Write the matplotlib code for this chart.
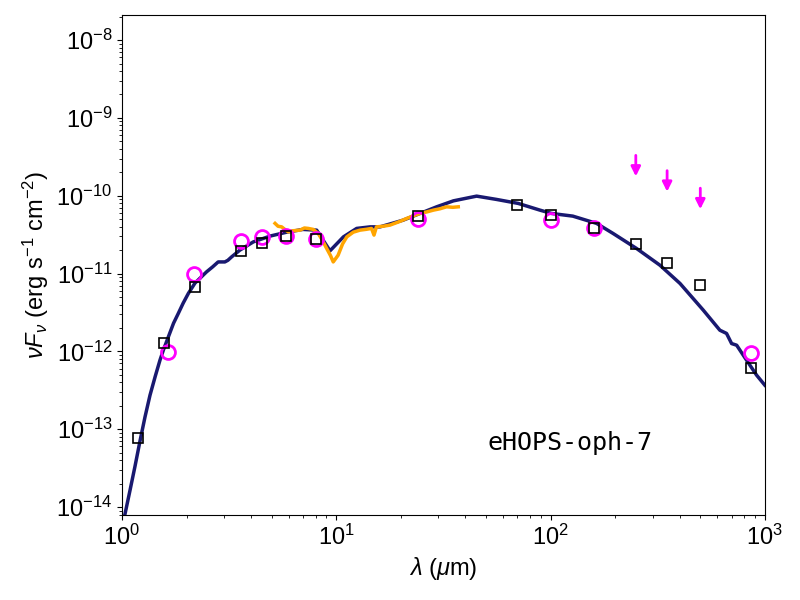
import matplotlib
matplotlib.use('Agg')
import matplotlib.pyplot as plt
import numpy as np

plt.rcParams['font.family'] = ['Liberation Sans', 'DejaVu Sans']
plt.rcParams['mathtext.fontset'] = 'custom'
plt.rcParams['mathtext.rm'] = 'Liberation Sans'
plt.rcParams['mathtext.it'] = 'Liberation Sans:italic'
plt.rcParams['mathtext.bf'] = 'Liberation Sans:bold'

# model SED
lam_model = [1.03, 1.09, 1.15, 1.213, 1.28, 1.351, 1.43, 1.504, 1.56, 1.645, 1.74,
             1.831, 1.93, 2.04, 2.19, 2.48, 2.65, 2.81, 3.02, 3.12, 3.25,
             3.55, 4.10, 4.91, 5.87, 6.99, 8.10, 9.35, 10.8, 12.45, 14.4, 16.0, 20.5,
             24.6, 29.4, 35.2, 42.1, 45.2, 56.0, 70.7, 89.2, 101, 127, 164, 196,
             252, 324, 402, 516, 617, 663, 700, 739, 793, 916, 1000]
f_model = [7.85e-15, 1.64e-14, 3.34e-14, 7.02e-14, 1.43e-13, 2.73e-13, 4.80e-13,
           7.71e-13, 1.04e-12, 1.53e-12, 2.30e-12, 3.07e-12, 4.17e-12, 5.55e-12,
           7.53e-12, 1.05e-11, 1.22e-11, 1.41e-11, 1.41e-11, 1.48e-11, 1.64e-11,
           2.00e-11, 2.55e-11,
           3.03e-11, 3.40e-11, 3.69e-11, 3.61e-11, 1.96e-11, 2.96e-11, 3.80e-11,
           3.98e-11, 3.98e-11, 4.85e-11, 5.92e-11, 7.20e-11, 8.59e-11, 9.50e-11,
           9.88e-11, 8.96e-11, 7.96e-11, 6.53e-11, 5.92e-11, 5.47e-11, 4.41e-11,
           3.27e-11, 2.10e-11, 1.28e-11, 7.46e-12, 3.39e-12, 1.87e-12, 1.70e-12,
           1.26e-12, 1.20e-12, 8.94e-13, 4.94e-13, 3.68e-13]

# IRS spectrum
lam_irs = [5.18, 5.35, 5.56, 5.75, 5.97, 6.3, 6.77, 7.1, 7.40, 7.81, 8.24, 8.6, 9.02,
           9.4, 9.68, 10.2, 10.7, 11.2, 12.0, 12.9, 13.8, 14.6, 15.0, 15.4, 16.5,
           17.8, 19.5, 21.3, 23.0, 24.6, 26.5, 28.4, 30.5, 32.7, 35.0, 37.1]
f_irs = [4.41e-11, 4.05e-11, 3.98e-11, 3.70e-11, 3.43e-11, 3.55e-11, 3.61e-11,
         3.85e-11, 3.80e-11, 3.69e-11, 3.27e-11, 2.70e-11, 2.10e-11, 1.70e-11,
         1.41e-11, 1.72e-11, 2.40e-11, 2.96e-11, 3.40e-11, 3.61e-11, 3.70e-11,
         3.80e-11, 3.12e-11, 3.98e-11, 4.05e-11, 4.19e-11, 4.60e-11, 5.10e-11,
         5.55e-11, 5.92e-11, 6.20e-11, 6.53e-11, 6.80e-11, 7.20e-11, 7.10e-11,
         7.20e-11]

# model photometry (open squares)
lam_sq = [1.19, 1.57, 2.19, 3.6, 4.5, 5.8, 8.0, 24, 70, 100, 160, 250, 350, 500, 860]
f_sq = [7.7e-14, 1.27e-12, 6.7e-12, 1.94e-11, 2.5e-11, 3.0e-11, 2.77e-11, 5.5e-11,
        7.6e-11, 5.6e-11, 3.9e-11, 2.4e-11, 1.36e-11, 7.1e-12, 6.1e-13]

# observed photometry (magenta circles)
lam_obs = [1.64, 2.17, 3.6, 4.5, 5.8, 8.0, 24, 100, 160, 860]
f_obs = [9.8e-13, 1.0e-11, 2.6e-11, 2.93e-11, 3.0e-11, 2.77e-11, 5.0e-11, 4.85e-11,
         3.9e-11, 9.5e-13]

# upper limits
lam_ul = [250, 350, 500]
f_ul = [3.3e-10, 2.1e-10, 1.25e-10]

name = 'eHOPS-oph-7'

fig = plt.figure(figsize=(8, 6), dpi=100)
ax = fig.add_axes([0.1525, 0.1417, 0.8035, 0.8333])

ax.plot(lam_model, f_model, color='midnightblue', lw=2.5, zorder=2)
ax.plot(lam_irs, f_irs, color='orange', lw=2.5, zorder=3)
ax.plot(lam_obs, f_obs, 'o', mfc='none', mec='magenta', mew=2, ms=10, zorder=4)
ax.plot(lam_sq, f_sq, 's', mfc='none', mec='black', mew=1.2, ms=7, zorder=5)
for l, f in zip(lam_ul, f_ul):
    ax.annotate('', xy=(l, f * 10 ** -0.27), xytext=(l, f),
                arrowprops=dict(arrowstyle='-|>', color='magenta', lw=2,
                                mutation_scale=14, shrinkA=0, shrinkB=0))

ax.set_xscale('log')
ax.set_yscale('log')
ax.set_xlim(1, 1000)
ax.set_ylim(7.9e-15, 2.1e-8)
ax.tick_params(labelsize=17)
ax.set_xlabel(r'$\lambda$ ($\mu$m)', fontsize=17)
ax.set_ylabel(r'$\nu F_\nu$ (erg s$^{-1}$ cm$^{-2}$)', fontsize=17)
ax.text(0.568, 0.144, name, transform=ax.transAxes, fontsize=18,
        family='DejaVu Sans Mono', va='center', ha='left')

fig.savefig('out.png', dpi=100)
